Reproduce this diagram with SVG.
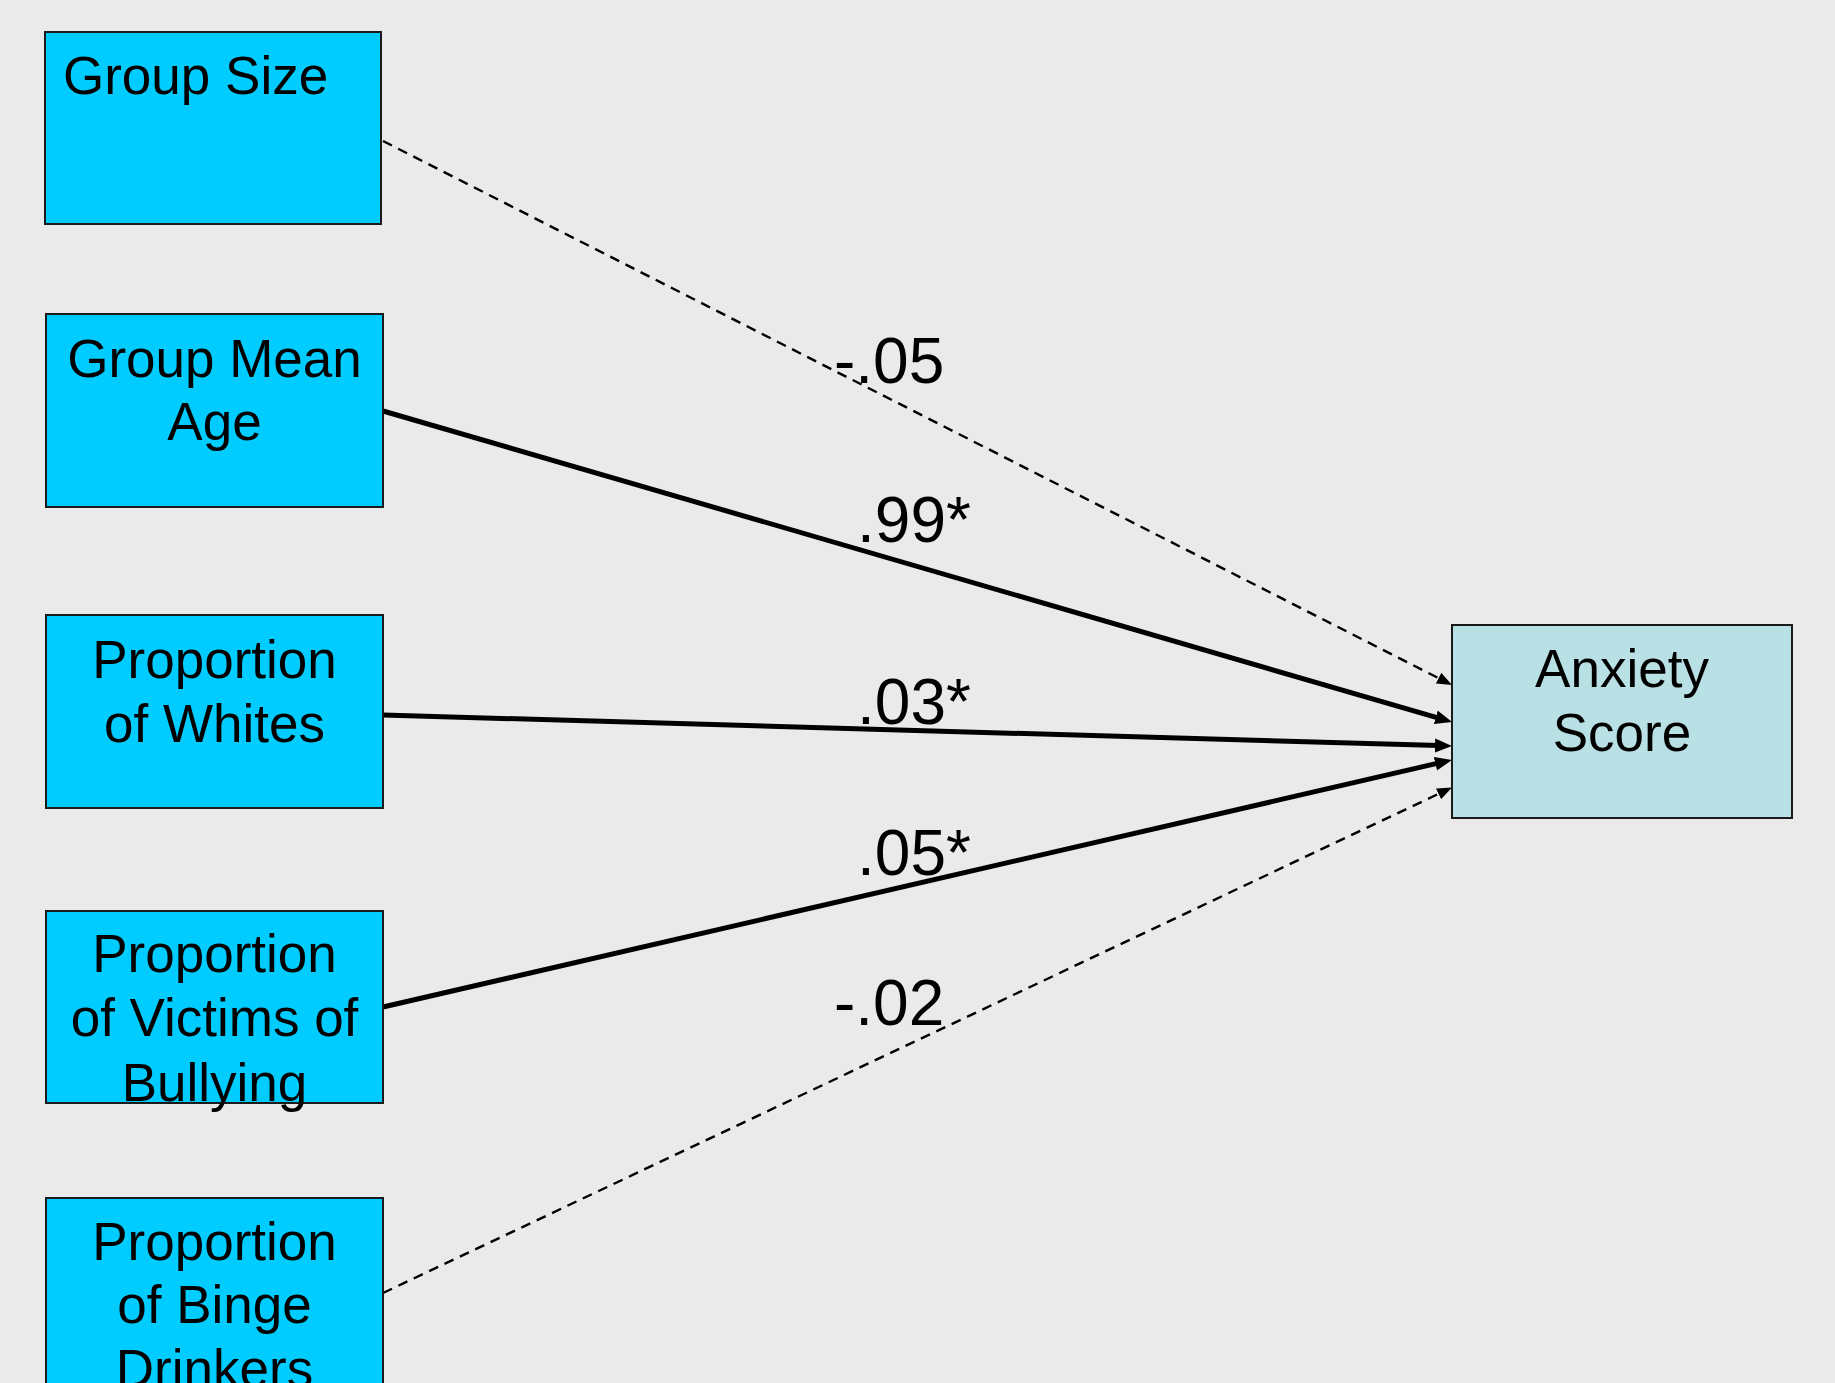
<svg xmlns="http://www.w3.org/2000/svg" width="1835" height="1383" viewBox="0 0 1835 1383">
<style>
.bg{fill:#EAEAEA}
.box{fill:#00CCFF;stroke:#1a1a1a;stroke-width:2}
.out{fill:#B9E0E4;stroke:#1a1a1a;stroke-width:2}
text{font-family:"Liberation Sans",Arial,sans-serif;font-size:53px;fill:#000}
.c{text-anchor:middle}
.lbl{font-size:64px}
.solid{fill:none;stroke:#000;stroke-width:5}
.dash{fill:none;stroke:#000;stroke-width:2.4;stroke-dasharray:10 7}
</style>
<defs>
<marker id="aS" markerUnits="userSpaceOnUse" markerWidth="19" markerHeight="15" refX="4" refY="7" orient="auto">
<path d="M0,0 L17,7 L0,14 z" fill="#000"/>
</marker>
<marker id="aD" markerUnits="userSpaceOnUse" markerWidth="17" markerHeight="13" refX="2" refY="6" orient="auto">
<path d="M0,0 L15,6 L0,12 z" fill="#000"/>
</marker>
</defs>
<rect class="bg" x="0" y="0" width="1835" height="1383"/>
<g id="connectors">
<path class="dash" d="M383,141 L1440.4,679.1" marker-end="url(#aD)"/>
<path class="solid" d="M383,411 L1439.6,718.4" marker-end="url(#aS)"/>
<path class="solid" d="M383,715 L1439,745.6" marker-end="url(#aS)"/>
<path class="solid" d="M383,1007 L1439.3,762.9" marker-end="url(#aS)"/>
<path class="dash" d="M383,1293 L1440.3,793" marker-end="url(#aD)"/>
<text class="lbl" x="834" y="383">-.05</text>
<text class="lbl" x="857" y="542">.99*</text>
<text class="lbl" x="857" y="724">.03*</text>
<text class="lbl" x="857" y="875">.05*</text>
<text class="lbl" x="834" y="1025">-.02</text>
</g>
<g id="group-size">
<rect class="box" x="45" y="32" width="336" height="192"/>
<text x="63" y="94">Group Size</text>
</g>
<g id="group-mean-age">
<rect class="box" x="46" y="314" width="337" height="193"/>
<text class="c" x="214.5" y="377">Group Mean</text>
<text class="c" x="214.5" y="440">Age</text>
</g>
<g id="prop-whites">
<rect class="box" x="46" y="615" width="337" height="193"/>
<text class="c" x="214.5" y="678">Proportion</text>
<text class="c" x="214.5" y="742">of Whites</text>
</g>
<g id="prop-victims">
<rect class="box" x="46" y="911" width="337" height="192"/>
<text class="c" x="214.5" y="972">Proportion</text>
<text class="c" x="214.5" y="1036">of Victims of</text>
<text class="c" x="214.5" y="1101">Bullying</text>
</g>
<g id="prop-binge">
<rect class="box" x="46" y="1198" width="337" height="200"/>
<text class="c" x="214.5" y="1260">Proportion</text>
<text class="c" x="214.5" y="1323">of Binge</text>
<text class="c" x="214.5" y="1387">Drinkers</text>
</g>
<g id="anxiety-score">
<rect class="out" x="1452" y="625" width="340" height="193"/>
<text class="c" x="1622" y="687">Anxiety</text>
<text class="c" x="1622" y="751">Score</text>
</g>
</svg>
